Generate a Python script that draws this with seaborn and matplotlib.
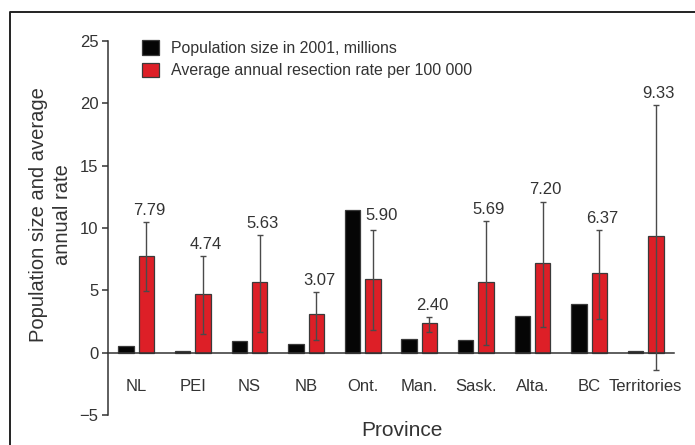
import pandas as pd
import seaborn as sns
import matplotlib.pyplot as plt
from matplotlib.lines import Line2D

# === Data ===
provinces = ["NL", "PEI", "NS", "NB", "Ont.", "Man.", "Sask.", "Alta.", "BC", "Territories"]
population = [0.51, 0.14, 0.91, 0.73, 11.41, 1.12, 0.98, 2.97, 3.91, 0.10]
rate = [7.79, 4.74, 5.63, 3.07, 5.90, 2.40, 5.69, 7.20, 6.37, 9.33]
rate_lo = [4.97, 1.50, 1.63, 1.02, 1.79, 1.68, 0.61, 2.08, 2.72, -1.39]
rate_hi = [10.45, 7.74, 9.43, 4.89, 9.83, 2.86, 10.58, 12.12, 9.80, 19.87]
rate_labels = ["7.79", "4.74", "5.63", "3.07", "5.90", "2.40", "5.69", "7.20", "6.37", "9.33"]

pop_name = "Population size in 2001, millions"
rate_name = "Average annual resection rate per 100 000"

df = pd.concat([
    pd.DataFrame({"province": provinces, "series": pop_name, "value": population}),
    pd.DataFrame({"province": provinces, "series": rate_name, "value": rate}),
])

sns.set_theme(style="white")
plt.rcParams["font.family"] = ["Liberation Sans", "DejaVu Sans"]
text_col = "#333333"

fig = plt.figure(figsize=(6.95, 4.45), dpi=100)
ax = fig.add_axes([108 / 695, 1 - 415 / 445, 566 / 695, 374 / 445])

sns.barplot(
    data=df, x="province", y="value", hue="series", order=provinces,
    palette={pop_name: "#050505", rate_name: "#dd1f27"}, saturation=1,
    errorbar=None, width=0.72, gap=0.25, edgecolor="#3a3a3a", linewidth=0.9,
    ax=ax,
)

# --- error bars and value labels on the rate bars ---
red_bars = ax.containers[1]
xs = [p.get_x() + p.get_width() / 2 for p in red_bars]
lower = [r - lo for r, lo in zip(rate, rate_lo)]
upper = [hi - r for r, hi in zip(rate, rate_hi)]
ax.errorbar(xs, rate, yerr=[lower, upper], fmt="none", ecolor="#4a4a4a",
            elinewidth=1.0, capsize=2.2, capthick=1.0, zorder=5)
for x, hi, lab, prov in zip(xs, rate_hi, rate_labels, provinces):
    dx = 6 if prov == "Ont." else 2
    dy = 5 if prov == "Ont." else 3
    ax.annotate(lab, (x, hi), xytext=(dx, dy), textcoords="offset points",
                ha="center", va="bottom", fontsize=12, color=text_col)

# --- axes styling ---
ax.set_ylim(-5, 25)
ax.set_xlim(-0.5, 9.5)
ax.set_yticks([-5, 0, 5, 10, 15, 20, 25])
ax.set_yticklabels(["\u22125", "0", "5", "10", "15", "20", "25"])
sns.despine(ax=ax, top=True, right=True)
ax.spines["bottom"].set_position(("data", 0))
for s in ("left", "bottom"):
    ax.spines[s].set_color("#333333")
    ax.spines[s].set_linewidth(1.1)

ax.set_xticks(range(len(provinces)))
ax.set_xticklabels(provinces)
ax.set_xticks([i + 0.5 for i in range(len(provinces))], minor=True)
ax.tick_params(axis="x", which="major", length=0, pad=19, labelsize=12, labelcolor=text_col)
ax.tick_params(axis="x", which="minor", direction="out", length=3, width=1.1, color="#333333")
ax.tick_params(axis="y", direction="out", length=4, width=1.1, color="#333333",
               pad=3, labelsize=12, labelcolor=text_col, left=True)

ax.set_ylabel("Population size and average\nannual rate", fontsize=14.5, color=text_col,
              linespacing=1.3)
ax.yaxis.set_label_coords(-0.064, 0.535)
ax.set_xlabel("Province", fontsize=15, color=text_col)
ax.xaxis.set_label_coords(0.519, -0.015)

ax.legend(
    loc="upper left", bbox_to_anchor=(0.035, 1.04), frameon=False,
    fontsize=11.4, handlelength=1.05, handleheight=1.05, handletextpad=0.75,
    labelspacing=0.42, labelcolor=text_col,
)

# --- outer frame (cropped box) ---
fx = 9.5 / 695
fy = 1 - 12 / 445
fig.add_artist(Line2D([fx, fx, 1.0], [0.0, fy, fy], transform=fig.transFigure,
                      color="#222222", linewidth=1.4))

fig.savefig("out.png", dpi=100)
